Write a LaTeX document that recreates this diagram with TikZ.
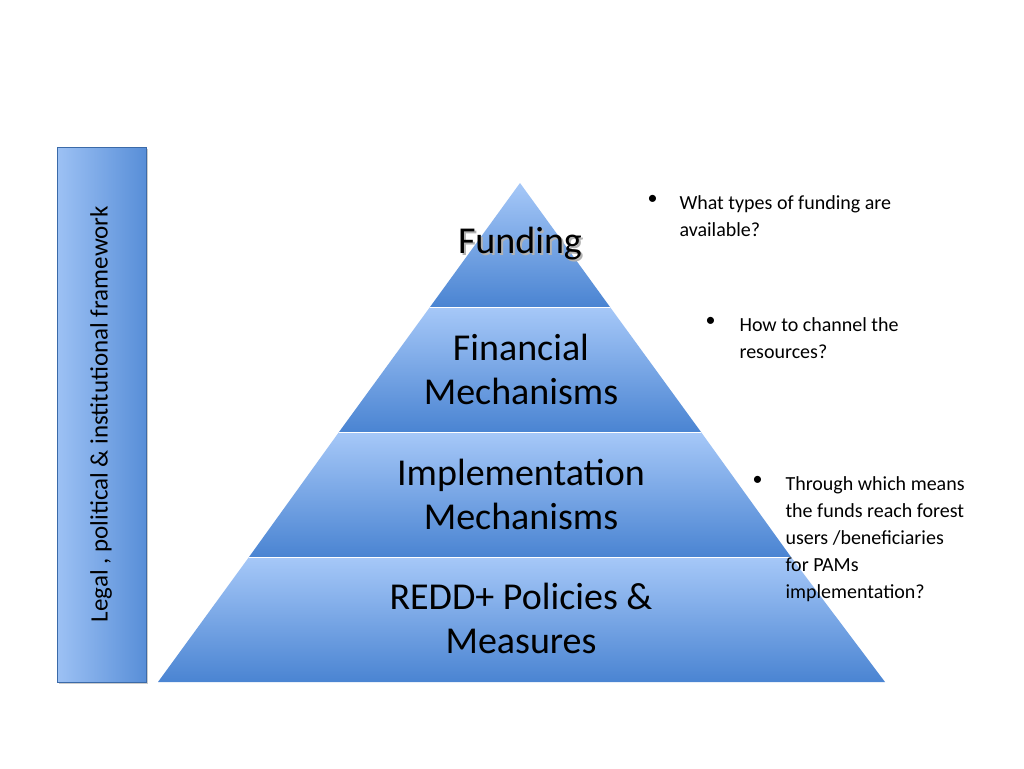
\documentclass[tikz,border=0pt]{standalone}
\usepackage{fontspec}
\setmainfont{Carlito}
\begin{document}
\begin{tikzpicture}[x=1pt,y=-1pt,
  band/.style={top color=lightband,bottom color=darkband,draw=none},
  big/.style={font=\fontsize{38}{44}\selectfont,align=center,text=black},
  note/.style={font=\fontsize{20}{27}\selectfont,align=left,anchor=north west,text=black}]
\definecolor{lightband}{HTML}{A6C8F8}
\definecolor{darkband}{HTML}{4A84D2}
\useasboundingbox (0,0) rectangle (1024,768);
\fill[white] (0,0) rectangle (1024,768);
% side bar
\fill[gray!40] (59,149) rectangle (148,684);
\shade[left color=lightband!90!darkband,right color=darkband!85!lightband,draw=darkband!80!black,line width=0.5pt] (57,147) rectangle (146,682);
\node[rotate=90,font=\fontsize{25}{30}\selectfont] (side) at (101,414) {Legal , political \& institutional framework};
% pyramid bands
\shade[band] (520,183) -- (610,307) -- (430,307) -- cycle;
\shade[band] (430,307) -- (610,307) -- (701,432) -- (339,432) -- cycle;
\shade[band] (339,432) -- (701,432) -- (791,557) -- (249,557) -- cycle;
\shade[band] (249,557) -- (791,557) -- (885,682) -- (158,682) -- cycle;
\draw[white,line width=1pt] (430,307) -- (610,307) (339,432) -- (701,432) (249,557) -- (791,557);
% labels
\node[big,text=gray!60] at (522,246) {Funding};
\node[big] (f) at (520,244) {Funding};
\node[big] (fm) at (521,369) {Financial\\Mechanisms};
\node[big] (im) at (521,494) {Implementation\\Mechanisms};
\node[big] (rp) at (521,618) {REDD+ Policies \&\\Measures};
% notes
\node[note] (b1) at (644,192) {\textbullet};
\node[note] (n1) at (676,192) {What types of funding are\\available?};
\node[note] (b2) at (702,314) {\textbullet};
\node[note] (n2) at (736,314) {How to channel the\\resources?};
\node[note] (b3) at (749,473) {\textbullet};
\node[note] (n3) at (782,473) {Through which means\\the funds reach forest\\users /beneficiaries\\for PAMs\\implementation?};
\end{tikzpicture}
\end{document}
